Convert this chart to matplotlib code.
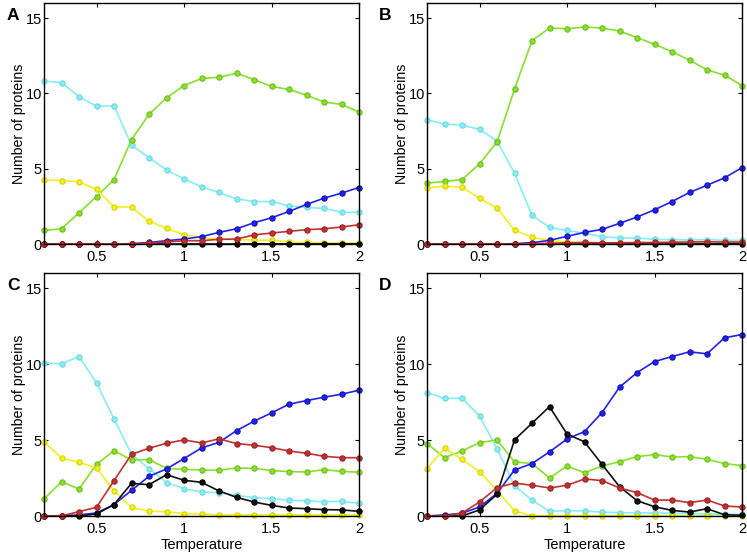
import numpy as np
import matplotlib.pyplot as plt

plt.rcParams['font.family'] = ['Liberation Sans', 'DejaVu Sans']

# temperaturas (eje x comun)
temps = np.round(np.arange(0.2, 2.01, 0.1), 1)

# Panel A
a_cyan = [10.81, 10.72, 9.79, 9.13, 9.18, 6.55, 5.74, 4.92, 4.32, 3.79, 3.42, 3.0, 2.82, 2.82, 2.54, 2.43, 2.36, 2.12, 2.10]
a_green = [0.90, 1.01, 2.07, 3.15, 4.28, 6.93, 8.60, 9.71, 10.52, 10.99, 11.07, 11.34, 10.92, 10.46, 10.26, 9.88, 9.42, 9.27, 8.76]
a_yellow = [4.24, 4.21, 4.13, 3.62, 2.47, 2.43, 1.52, 1.04, 0.62, 0.44, 0.33, 0.29, 0.26, 0.24, 0.13, 0.10, 0.09, 0.07, 0.07]
a_blue = [0, 0, 0, 0, 0, 0.02, 0.10, 0.22, 0.33, 0.49, 0.77, 1.01, 1.41, 1.74, 2.16, 2.63, 3.04, 3.38, 3.75]
a_red = [0, 0, 0, 0, 0, 0, 0.07, 0.13, 0.22, 0.22, 0.31, 0.33, 0.60, 0.73, 0.84, 0.95, 1.01, 1.13, 1.28]
a_black = [0, 0, 0, 0, 0, 0, 0, 0, 0, 0, 0, 0, 0.01, 0.01, 0.01, 0.01, 0.01, 0.01, 0.01]

# Panel B
b_cyan = [8.25, 7.96, 7.90, 7.61, 6.84, 4.70, 1.90, 1.10, 0.90, 0.71, 0.49, 0.40, 0.40, 0.31, 0.29, 0.26, 0.29, 0.24, 0.24]
b_green = [4.04, 4.15, 4.28, 5.32, 6.77, 10.28, 13.50, 14.34, 14.29, 14.40, 14.34, 14.14, 13.70, 13.26, 12.77, 12.20, 11.56, 11.21, 10.52]
b_yellow = [3.71, 3.84, 3.77, 3.04, 2.38, 0.93, 0.44, 0.24, 0.13, 0.09, 0.05, 0.05, 0.05, 0.05, 0.04, 0.04, 0.04, 0.04, 0.04]
b_blue = [0, 0, 0, 0, 0, 0.02, 0.09, 0.24, 0.51, 0.77, 0.97, 1.37, 1.79, 2.27, 2.82, 3.42, 3.90, 4.39, 5.07]
b_red = [0, 0, 0, 0, 0, 0, 0.02, 0.05, 0.08, 0.10, 0.08, 0.08, 0.10, 0.10, 0.12, 0.13, 0.15, 0.13, 0.13]
b_black = [0, 0, 0, 0, 0, 0, 0, 0, 0, 0, 0, 0, 0, 0, 0, 0, 0.01, 0.01, 0.01]

# Panel C
c_cyan = [10.08, 10.02, 10.50, 8.76, 6.39, 4.06, 3.12, 2.20, 1.80, 1.58, 1.54, 1.36, 1.21, 1.14, 1.05, 0.99, 0.94, 0.97, 0.83]
c_green = [1.12, 2.26, 1.78, 3.40, 4.30, 3.69, 3.71, 3.14, 3.07, 3.03, 3.01, 3.16, 3.14, 2.99, 2.92, 2.90, 3.05, 2.94, 2.88]
c_yellow = [4.88, 3.82, 3.54, 3.16, 1.65, 0.57, 0.31, 0.29, 0.15, 0.13, 0.07, 0.07, 0.07, 0.07, 0.07, 0.07, 0.07, 0.07, 0.07]
c_blue = [0, 0.02, 0.07, 0.20, 0.75, 1.69, 2.61, 3.10, 3.78, 4.48, 4.85, 5.62, 6.24, 6.79, 7.36, 7.60, 7.82, 8.02, 8.28]
c_red = [0, 0, 0.29, 0.57, 2.33, 4.06, 4.46, 4.79, 5.01, 4.81, 5.08, 4.77, 4.66, 4.50, 4.28, 4.13, 3.93, 3.84, 3.84]
c_black = [0, 0, 0, 0.13, 0.75, 2.15, 2.06, 2.72, 2.35, 2.22, 1.65, 1.23, 0.92, 0.70, 0.53, 0.48, 0.42, 0.40, 0.31]

# Panel D
d_cyan = [8.13, 7.74, 7.76, 6.59, 4.44, 1.98, 1.05, 0.31, 0.35, 0.33, 0.26, 0.22, 0.20, 0.20, 0.18, 0.16, 0.14, 0.12, 0.10]
d_green = [4.77, 3.84, 4.28, 4.83, 5.01, 3.56, 3.45, 2.50, 3.29, 2.85, 3.29, 3.58, 3.91, 4.04, 3.89, 3.91, 3.73, 3.45, 3.32]
d_yellow = [3.12, 4.46, 3.73, 2.92, 1.67, 0.35, 0, 0, 0, 0, 0, 0, 0, 0, 0, 0, 0, 0, 0]
d_blue = [0, 0.07, 0.18, 0.59, 1.49, 3.03, 3.45, 4.22, 5.07, 5.56, 6.81, 8.48, 9.44, 10.17, 10.50, 10.81, 10.68, 11.73, 11.95]
d_red = [0, 0, 0.20, 0.92, 1.87, 2.17, 2.02, 1.85, 2.02, 2.44, 2.33, 1.85, 1.54, 1.05, 1.05, 0.88, 1.05, 0.66, 0.59]
d_black = [0, 0, 0, 0.40, 1.43, 5.01, 6.11, 7.20, 5.40, 4.88, 3.40, 1.93, 1.01, 0.61, 0.37, 0.26, 0.48, 0.08, 0.05]

panels = {
    'A': (a_cyan, a_green, a_yellow, a_blue, a_black, a_red),
    'B': (b_cyan, b_green, b_yellow, b_blue, b_black, b_red),
    'C': (c_cyan, c_green, c_yellow, c_blue, c_black, c_red),
    'D': (d_cyan, d_green, d_yellow, d_blue, d_black, d_red),
}
# colores (linea, borde del marcador)
colores = [('#85eef5', '#6fd8e0'), ('#86e02c', '#6cc018'), ('#f2f020', '#d8d400'),
           ('#2222ee', '#1010b0'), ('#111111', '#000000'), ('#c03232', '#a02020')]

W, H = 747, 555
fig = plt.figure(figsize=(W / 100, H / 100), dpi=100)

# posiciones de los ejes en pixeles: izquierda, arriba, derecha, abajo
cajas = {'A': (44, 3, 359, 244), 'B': (427, 3, 742, 244),
         'C': (44, 273, 359, 516), 'D': (427, 273, 742, 516)}
letras = {'A': (7, 16), 'B': (379, 15), 'C': (7, 285), 'D': (379, 285)}

for nombre, series in panels.items():
    l, t, r, b = cajas[nombre]
    ax = fig.add_axes([l / W, 1 - b / H, (r - l) / W, (b - t) / H])
    for ys, (c, ec) in zip(series, colores):
        ax.plot(temps, ys, '-o', color=c, lw=1.2, ms=3.8, mfc=c, mec=ec, mew=0.8, clip_on=False)
    ax.set_xlim(0.2, 2)
    ax.set_ylim(0, 16)
    ax.set_xticks([0.5, 1, 1.5, 2])
    ax.set_xticklabels(['0.5', '1', '1.5', '2'])
    ax.set_yticks([0, 5, 10, 15])
    ax.tick_params(direction='in', top=True, right=True, length=3, width=0.8, labelsize=10.5)
    ax.tick_params(axis='x', pad=4)
    ax.tick_params(axis='y', pad=1.5)
    for s in ax.spines.values():
        s.set_linewidth(1.0)
    ax.set_ylabel('Number of proteins', fontsize=10.2, labelpad=0)
    if nombre in ('C', 'D'):
        ax.set_xlabel('Temperature', fontsize=10.5, labelpad=2)
    fig.text(letras[nombre][0] / W, 1 - letras[nombre][1] / H, nombre,
             fontsize=12.5, fontweight='bold', va='center', ha='left')

fig.savefig('out.png', dpi=100)
